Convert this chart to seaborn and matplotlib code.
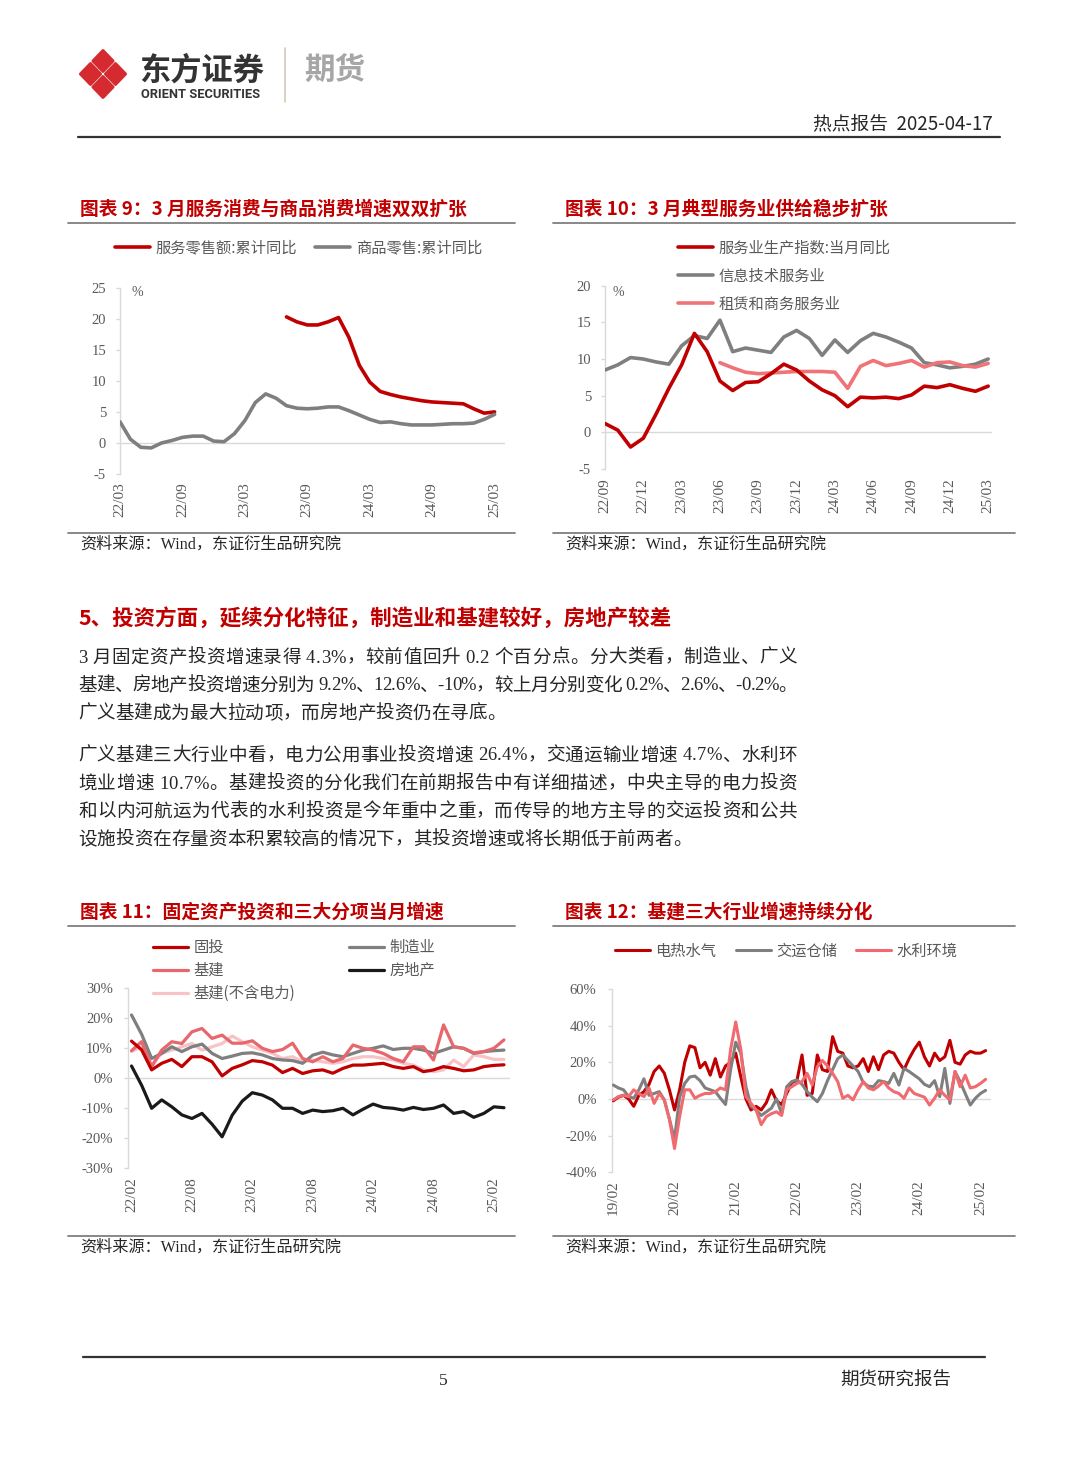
import numpy as np
import pandas as pd
import matplotlib.pyplot as plt
import seaborn as sns
from matplotlib import font_manager, ft2font
from matplotlib.lines import Line2D
from matplotlib.patches import Polygon

# ---------------- data: chart 9 (monthly, 22/03 .. 25/03) ----------------
c9_ticklabels = ["22/03", "22/09", "23/03", "23/09", "24/03", "24/09", "25/03"]
c9_goods = [3.4, 0.6, -0.7, -0.8, 0.0, 0.4, 0.9, 1.1, 1.1, 0.3, 0.2, 1.5,
            3.6, 6.5, 7.9, 7.2, 6.0, 5.6, 5.5, 5.6, 5.8, 5.8, 5.2, 4.5,
            3.8, 3.3, 3.4, 3.1, 2.9, 2.9, 2.9, 3.0, 3.1, 3.1, 3.2, 3.8, 4.6]
c9_service = [np.nan] * 16 + [20.3, 19.5, 19.0, 19.0, 19.5, 20.2, 17.0, 12.5,
                              9.8, 8.3, 7.8, 7.4, 7.1, 6.8, 6.6, 6.5, 6.4, 6.3,
                              5.5, 4.8, 5.0]
c9_labels = ["服务零售额:累计同比", "商品零售:累计同比"]

# ---------------- data: chart 10 (monthly, 22/09 .. 25/03) ----------------
c10_ticklabels = ["22/09", "22/12", "23/03", "23/06", "23/09", "23/12",
                  "24/03", "24/06", "24/09", "24/12", "25/03"]
c10_service_idx = [1.2, 0.3, -2.0, -0.8, 2.5, 6.0, 9.2, 13.5, 11.0, 7.0, 5.7,
                   6.8, 6.9, 8.0, 9.3, 8.5, 7.0, 5.8, 5.0, 3.5, 4.8, 4.7, 4.8,
                   4.6, 5.1, 6.3, 6.1, 6.5, 6.0, 5.6, 6.3]
c10_it = [8.5, 9.2, 10.2, 10.0, 9.6, 9.3, 11.8, 13.2, 12.8, 15.3, 11.0, 11.5,
          11.2, 10.9, 13.0, 13.9, 12.8, 10.5, 12.6, 10.9, 12.5, 13.5, 13.0,
          12.3, 11.5, 9.5, 9.2, 8.8, 9.0, 9.3, 10.0]
c10_lease = [np.nan] * 9 + [9.5, 8.8, 8.2, 8.0, 8.1, 8.2, 8.3, 8.3, 8.3, 8.2,
                            6.0, 9.0, 9.8, 9.1, 9.4, 9.8, 8.9, 9.5, 9.6, 9.1,
                            8.9, 9.4]
c10_labels = ["服务业生产指数:当月同比", "信息技术服务业", "租赁和商务服务业"]

# ---------------- data: chart 11 (monthly, 22/02 .. 25/03) ----------------
c11_ticklabels = ["22/02", "22/08", "23/02", "23/08", "24/02", "24/08", "25/02"]
c11_fai = [12.2, 9.3, 2.6, 4.8, 6.1, 3.7, 7.0, 7.0, 5.3, 0.6, 3.1, 4.3, 5.7,
           5.3, 4.2, 1.7, 3.1, 1.4, 2.3, 2.6, 1.5, 3.1, 4.2, 4.2, 4.5, 4.8,
           3.7, 3.1, 3.7, 2.0, 2.6, 3.7, 3.1, 2.3, 2.6, 3.7, 4.1, 4.3]
c11_infra = [9.0, 12.0, 3.7, 9.2, 12.0, 11.4, 15.3, 16.4, 13.1, 14.2, 11.5,
             11.5, 12.3, 9.8, 8.7, 9.4, 11.5, 6.4, 5.3, 7.0, 5.3, 6.4, 10.9,
             9.8, 9.2, 8.1, 6.4, 5.3, 10.3, 10.3, 5.9, 17.6, 10.3, 9.8, 8.3,
             8.7, 9.8, 12.6]
c11_infra_ex = [8.7, 10.3, 4.2, 8.1, 9.2, 10.3, 11.4, 9.2, 10.3, 11.4, 13.9,
                12.0, 10.3, 9.2, 8.1, 6.4, 7.0, 5.3, 5.9, 5.3, 4.8, 5.3, 6.4,
                7.0, 7.0, 6.4, 5.9, 4.8, 4.2, 2.6, 2.0, 2.6, 5.9, 3.7, 7.6,
                7.0, 6.1, 6.1]
c11_mfg = [20.9, 14.5, 6.4, 8.1, 10.3, 8.7, 10.3, 11.2, 8.1, 6.4, 7.2, 8.1,
           8.3, 7.6, 6.4, 5.9, 5.7, 4.8, 7.5, 8.5, 7.6, 7.0, 8.1, 9.2, 9.8,
           10.6, 9.4, 9.8, 9.8, 9.2, 8.1, 9.2, 10.3, 9.8, 8.1, 8.7, 9.0, 9.2]
c11_estate = [3.9, -2.5, -10.2, -7.4, -9.7, -12.4, -13.6, -11.9, -15.5, -19.7,
              -12.5, -7.8, -5.0, -5.8, -7.4, -10.2, -10.2, -11.9, -10.8, -11.3,
              -11.0, -10.2, -12.4, -10.5, -8.8, -9.9, -10.2, -10.8, -9.9,
              -10.6, -10.2, -9.1, -11.9, -11.3, -13.2, -11.9, -9.7, -10.0]
c11_labels = ["固投", "基建", "基建(不含电力)", "制造业", "房地产"]

# ---------------- data: chart 12 (monthly, 19/02 .. 25/03) ----------------
c12_ticklabels = ["19/02", "20/02", "21/02", "22/02", "23/02", "24/02", "25/02"]
c12_power = [-1, 1, 2, 0, -4, 2, 4, 8, 15, 18, 14, 5, -6, 5, 20, 29, 28, 17,
             20, 13, 22, 12, 18, 20, 25, 12, 0, -6, -4, -6, -2, 5, -1, -3, 3,
             9, 10, 24, 2, 3, 24, 16, 15, 34, 26, 25, 18, 17, 18, 22, 15, 23,
             16, 24, 26, 25, 20, 16, 22, 27, 31, 23, 18, 25, 21, 23, 32, 20,
             19, 24, 26, 25, 25, 26.4]
c12_transport = [7.6, 6, 5, 1.3, 0.4, 5, 11, 2, 3, 4, -0.5, -11, -22, 1, 8.5,
                 12, 12.5, 10, 6, 5, 4, 0.4, -3, 16, 31, 25, 6.7, -4, -6, -9,
                 -7, -5, 0, -8, 6.7, 9.5, 10.4, 8, 4, 1, -1.5, 3, 10, 16, 22,
                 24, 21, 18, 15, 9, 7, 6.7, 10, 9.5, 8.5, 14, 7.6, 16.7, 15,
                 13, 11, 8, 6.7, 10, 1.3, 16.7, -2.4, 15, 9.5, 3, -3.3, 0.4,
                 3, 4.7]
c12_water = [-0.5, 1.3, 2, 1.3, 5, 3, 1.3, 6, -2.4, 3, -0.5, -11, -27, -9.6,
             5, 5, 0.4, 2, 3, 3, 4, 6, 5, 27, 42, 27, 1.3, -2.4, -6, -14,
             -9.6, -8, -7, -9, 5, 6.7, 8.5, 9.5, 14, 7.6, 17.6, 21, 18, 14,
             9.5, 0.4, 2, -0.5, 5, 9.5, 6, 5, 7, 9.5, 6, 4, 3, 0.4, 6, 3, 2,
             1, -3.3, 0.4, 5, 2, -0.5, 15, 6.7, 13, 6, 6.7, 8.5, 10.7]
c12_labels = ["电热水气", "交运仓储", "水利环境"]

# ---------------- page text ----------------
heading = "5、投资方面，延续分化特征，制造业和基建较好，房地产较差"
para_lines = [
    "3 月固定资产投资增速录得 4.3%，较前值回升 0.2 个百分点。分大类看，制造业、广义",
    "基建、房地产投资增速分别为 9.2%、12.6%、-10%，较上月分别变化 0.2%、2.6%、-0.2%。",
    "广义基建成为最大拉动项，而房地产投资仍在寻底。",
    "广义基建三大行业中看，电力公用事业投资增速 26.4%，交通运输业增速 4.7%、水利环",
    "境业增速 10.7%。基建投资的分化我们在前期报告中有详细描述，中央主导的电力投资",
    "和以内河航运为代表的水利投资是今年重中之重，而传导的地方主导的交运投资和公共",
    "设施投资在存量资本积累较高的情况下，其投资增速或将长期低于前两者。",
]
para_y = [658, 686, 714, 756, 784, 812, 840]
para_justify = [True, True, False, True, True, True, False]

W, H = 1080, 1466
RED = "#c00000"
GRAY = "#7f7f7f"
TXT = "#595959"
CJK = ["Noto Sans CJK SC", "DejaVu Sans"]
SERIF_CJK = ["Liberation Serif", "Noto Sans CJK SC", "DejaVu Sans"]

sns.set_theme(style="white")
plt.rcParams["font.family"] = CJK
plt.rcParams["axes.unicode_minus"] = False

fig = plt.figure(figsize=(W / 100, H / 100), dpi=100)
fig.patch.set_facecolor("white")


def fx(x):
    return x / W


def fy(y):
    return 1 - y / H


def hline(x0, x1, y, color, lw):
    fig.add_artist(Line2D([fx(x0), fx(x1)], [fy(y), fy(y)], color=color, lw=lw))


def frame(x0, x1, y_title, y_top, y_bottom, title):
    fig.text(fx(x0 + 12), fy(y_title), title, color=RED, fontsize=13.5,
             fontweight="bold", family=CJK, va="center")
    hline(x0, x1, y_top, GRAY, 1.3)
    hline(x0, x1, y_bottom, GRAY, 1.3)
    fig.text(fx(x0 + 12), fy(y_bottom + 12), "资料来源：Wind，东证衍生品研究院",
             color="#262626", fontsize=11.6, family=SERIF_CJK, va="center")


def panel(box, series, colors, labels, lw, ylim, yticks, yfmt, xlim, step,
          ticklabels, ypad, xpad):
    l, t, r, b = box
    ax = fig.add_axes([fx(l), fy(b), (r - l) / W, (b - t) / H])
    ax.axhline(0, color="#d9d9d9", lw=1, zorder=1)
    for vals, c, lab in zip(series, colors, labels):
        sns.lineplot(x=np.arange(len(vals)), y=vals, color=c, lw=lw, label=lab,
                     ax=ax, solid_capstyle="round", solid_joinstyle="round",
                     errorbar=None, zorder=3)
    ax.set_xlim(xlim)
    ax.set_ylim(ylim)
    ax.set_yticks(yticks)
    ax.set_yticklabels([yfmt.format(v) for v in yticks])
    ax.set_xticks(list(range(0, len(series[0]), step))[:len(ticklabels)])
    ax.set_xticklabels(ticklabels, rotation=90)
    for s in ["top", "right", "bottom"]:
        ax.spines[s].set_visible(False)
    ax.spines["left"].set_color("#d9d9d9")
    ax.spines["left"].set_linewidth(1)
    ax.tick_params(axis="y", left=True, length=3, width=1, color="#d9d9d9",
                   pad=ypad, labelsize=10.5, labelcolor=TXT)
    ax.tick_params(axis="x", bottom=False, length=0, pad=xpad, labelsize=11,
                   labelcolor=TXT)
    for lab in ax.get_xticklabels() + ax.get_yticklabels():
        lab.set_family("Liberation Serif")
    ax.set_xlabel("")
    ax.set_ylabel("")
    ax.set_facecolor("none")
    ax.grid(False)
    ax.get_legend().remove()
    return ax


def legend(ax, order, x, y, loc, ncol, colsp=1.2, labsp=0.5):
    handles, labels = ax.get_legend_handles_labels()
    lookup = dict(zip(labels, handles))
    ax.legend([lookup[k] for k in order], order, loc=loc, ncol=ncol,
              bbox_to_anchor=(fx(x), fy(y)), bbox_transform=fig.transFigure,
              frameon=False, borderpad=0, borderaxespad=0, handlelength=2.3,
              handletextpad=0.35, columnspacing=colsp, labelspacing=labsp,
              prop={"family": CJK, "size": 11}, labelcolor=TXT)


# glyph advances, used to justify the body text like the report does
_fonts = [ft2font.FT2Font(font_manager.findfont(font_manager.FontProperties(family=f)))
          for f in ["Liberation Serif", "Noto Sans CJK SC"]]


def advance(ch, size):
    for f in _fonts:
        if f.get_char_index(ord(ch)):
            f.set_size(size, 100)
            return f.load_char(ord(ch)).linearHoriAdvance / 65536
    return size * 100 / 72


def body_line(text, x0, y, size, right=None):
    adv = [advance(ch, size) for ch in text]
    gap = 0.0
    if right is not None and len(text) > 1:
        gap = (right - x0 - sum(adv)) / (len(text) - 1)
    x = x0
    for ch, a in zip(text, adv):
        if ch != " ":
            fig.text(fx(x), fy(y), ch, color="#262626", fontsize=size,
                     family=SERIF_CJK, va="center", ha="left")
        x += a + gap


# ---------------- header ----------------
logo_red = "#d42a30"
for cx, cy in [(90.5, 74), (115.5, 74), (103, 61), (103, 87)]:
    hw, hh = 10.2, 10.6
    pts = [(fx(cx - hw), fy(cy)), (fx(cx), fy(cy - hh)),
           (fx(cx + hw), fy(cy)), (fx(cx), fy(cy + hh))]
    fig.add_artist(Polygon(pts, closed=True, facecolor=logo_red,
                           edgecolor=logo_red, lw=2, joinstyle="round",
                           transform=fig.transFigure))
fig.text(fx(139), fy(71), "东方证券", fontsize=22.5, fontweight="bold",
         color="#333333", family=CJK, va="center")
fig.text(fx(141), fy(95), "ORIENT SECURITIES", fontsize=9.3, fontweight="bold",
         color="#333333", family=["Roboto", "DejaVu Sans"], va="center")
fig.add_artist(Line2D([fx(285), fx(285)], [fy(48), fy(102)], color="#d3cab8", lw=1.2))
fig.text(fx(304), fy(71), "期货", fontsize=22, fontweight="bold",
         color="#a6a6a6", family=CJK, va="center")
fig.text(fx(993), fy(124), "热点报告  2025-04-17", fontsize=13.5,
         color="#262626", family=CJK, ha="right", va="center")
hline(78, 1000, 137, "#333333", 1.6)

# ---------------- chart 9 ----------------
frame(68, 515, 209, 223, 533, "图表 9：3 月服务消费与商品消费增速双双扩张")
ax9 = panel((120, 287.7, 505, 474), [c9_service, c9_goods], [RED, GRAY],
            c9_labels, 2.6, (-5, 25), [-5, 0, 5, 10, 15, 20, 25], "{}",
            (0, 37), 6, c9_ticklabels, 7, 6)
legend(ax9, c9_labels, 115, 248, "center left", 2, colsp=1.2)
fig.text(fx(131), fy(293), "%", fontsize=10, color=TXT,
         family="Liberation Serif", va="center")

# ---------------- chart 10 ----------------
frame(553, 1015, 209, 223, 533, "图表 10：3 月典型服务业供给稳步扩张")
ax10 = panel((605, 285.7, 992, 469), [c10_it, c10_lease, c10_service_idx],
             [GRAY, "#f07378", RED], [c10_labels[1], c10_labels[2], c10_labels[0]],
             2.6, (-5, 20), [-5, 0, 5, 10, 15, 20], "{}", (0, 30.3), 3,
             c10_ticklabels, 7, 7)
legend(ax10, c10_labels, 678, 276, "center left", 1, labsp=0.72)
fig.text(fx(613), fy(292), "%", fontsize=10, color=TXT,
         family="Liberation Serif", va="center")

# ---------------- section text ----------------
fig.text(fx(78), fy(618), heading, color=RED, fontsize=15.5, fontweight="bold",
         family=CJK, va="center")
for line, yy, just in zip(para_lines, para_y, para_justify):
    body_line(line, 78, yy, 13.4, right=797 if just else None)

# ---------------- chart 11 ----------------
frame(68, 515, 912, 926, 1236, "图表 11：固定资产投资和三大分项当月增速")
ax11 = panel((128, 987.7, 510, 1167.7),
             [c11_infra_ex, c11_mfg, c11_infra, c11_fai, c11_estate],
             ["#f7c3c7", GRAY, "#e8676d", RED, "#1a1a1a"],
             [c11_labels[2], c11_labels[3], c11_labels[1], c11_labels[0], c11_labels[4]],
             2.3, (-30, 30), [-30, -20, -10, 0, 10, 20, 30], "{}%",
             (-0.35, 37.6), 6, c11_ticklabels, 8, 7)
legend(ax11, c11_labels, 153, 939, "upper left", 2, colsp=3.5, labsp=0.4)

# ---------------- chart 12 ----------------
frame(553, 1015, 912, 926, 1236, "图表 12：基建三大行业增速持续分化")
ax12 = panel((611.8, 989, 990.7, 1172.3),
             [c12_power, c12_transport, c12_water],
             [RED, GRAY, "#f06a70"], c12_labels, 2.2,
             (-40, 60), [-40, -20, 0, 20, 40, 60], "{}%",
             (-0.3, 74), 12, c12_ticklabels, 8, 6)
legend(ax12, c12_labels, 615, 951, "center left", 3, colsp=1.25)

# ---------------- footer ----------------
hline(83, 985, 1357, "#333333", 1.6)
fig.text(fx(443), fy(1381), "5", fontsize=12.5, color="#262626",
         family="Liberation Serif", ha="center", va="center")
fig.text(fx(840), fy(1381), "期货研究报告", fontsize=13.3, color="#262626",
         family=CJK, va="center")

fig.savefig("out.png", dpi=100, facecolor="white")
